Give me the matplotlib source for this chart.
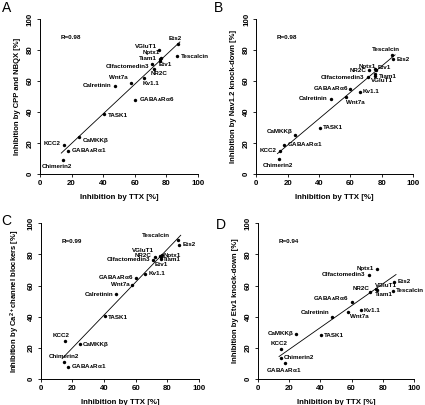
import numpy as np
import matplotlib.pyplot as plt

plt.rcParams['font.family'] = ['Liberation Sans', 'DejaVu Sans']
plt.rcParams['font.weight'] = 'bold'
plt.rcParams['mathtext.fontset'] = 'custom'
plt.rcParams['mathtext.rm'] = 'Liberation Sans:bold'
plt.rcParams['mathtext.it'] = 'Liberation Sans:bold'
plt.rcParams['mathtext.bf'] = 'Liberation Sans:bold'

GA1 = 'GABA$_{A}$Rα1'
GA6 = 'GABA$_{A}$Rα6'

# Inhibition by TTX [%] (shared x values)
genes = ['Ets2', 'Tescalcin', 'VGluT1', 'Nptx1', 'Tiam1', 'Etv1', 'Olfactomedin3',
         'NR2C', 'Kv1.1', GA6, 'Wnt7a', 'Calretinin', 'TASK1', 'CaMKKβ',
         GA1, 'KCC2', 'Chimerin2']
ttx = [87.5, 86.5, 75.5, 76.5, 76.0, 76.0, 71.0,
       72.0, 66.0, 60.0, 57.5, 47.5, 40.5, 24.5,
       17.5, 15.0, 14.5]

# y values per panel (None = not measured)
cpp_nbqx = [84, 76, 80, 75, 73, 74, 71, 68, 62, 48, 59, 57, 39, 24, 15, 18.5, 9]
nav12_kd = [74, 77, 63.5, 67, 64.5, 68, 62.5, 67, 53, 55, 49.5, 48.5, 30, 25, 19, 15, 10]
ca_block = [86, 89.5, 79, 79.5, 78, 77, 76.5, 78.5, 67.5, 65, 60.5, 54.5, 40.5, 22.5, 8, 24.5, 11]
etv1_kd = [62.5, 56.5, 57.5, 70.5, 57, None, 67, 56, 44, 49.5, 43, 39.5, 28, 29, 10, 19, 13.5]

r_texts = ['R=0.98', 'R=0.98', 'R=0.99', 'R=0.94']
ylabels = ['Inhibition by CPP and NBQX [%]',
           'Inhibition by Nav1.2 knock-down [%]',
           'Inhibition by Ca$^{2+}$channel blockers [%]',
           'Inhibition by Etv1 knock-down [%]']
letters = ['A', 'B', 'C', 'D']

# label placement: gene -> (dx px, dy px, ha, va)
L, R, C = 'left', 'right', 'center'
lay_a = {'Ets2': (-3, 3, C, 'bottom'), 'Tescalcin': (4, 0, L, 'center'),
         'VGluT1': (-2, 4, R, 'center'), 'Nptx1': (-1, 5, R, 'center'),
         'Tiam1': (-3, 2, R, 'center'), 'Etv1': (-1, -5, L, 'center'),
         'Olfactomedin3': (-3, -2, R, 'center'), 'NR2C': (-3, -5, L, 'center'),
         'Kv1.1': (-2, -6, L, 'center'), GA6: (4, 0, L, 'center'),
         'Wnt7a': (-3, 5, R, 'center'), 'Calretinin': (-4, 0, R, 'center'),
         'TASK1': (4, -2, L, 'center'), 'CaMKKβ': (4, -4, L, 'center'),
         GA1: (3, 0, L, 'center'), 'KCC2': (-3, 2, R, 'center'),
         'Chimerin2': (-6, -4, C, 'top')}
lay_b = {'Ets2': (3, 0, L, 'center'), 'Tescalcin': (-6, 3, C, 'bottom'),
         'VGluT1': (-4, -5, L, 'center'), 'Nptx1': (0, 4, R, 'center'),
         'Tiam1': (3, -2, L, 'center'), 'Etv1': (2, 1, L, 'center'),
         'Olfactomedin3': (-3, 0, R, 'center'), 'NR2C': (-3, 0, R, 'center'),
         'Kv1.1': (3, 0, L, 'center'), GA6: (-2, 0, R, 'center'),
         'Wnt7a': (0, -5, L, 'center'), 'Calretinin': (-3, 0, R, 'center'),
         'TASK1': (3, 0, L, 'center'), 'CaMKKβ': (-2, 4, R, 'center'),
         GA1: (3, 0, L, 'center'), 'KCC2': (-3, 0, R, 'center'),
         'Chimerin2': (-1, -4, C, 'top')}
lay_c = {'Ets2': (3, 0, L, 'center'), 'Tescalcin': (-8, 4, R, 'center'),
         'VGluT1': (-6, 5, R, 'center'), 'Nptx1': (2, 0, L, 'center'),
         'Tiam1': (2, -2, L, 'center'), 'Etv1': (0, -5, C, 'center'),
         'Olfactomedin3': (-3, 0, R, 'center'), 'NR2C': (-3, 1, R, 'center'),
         'Kv1.1': (3, 0, L, 'center'), GA6: (-2, 0, R, 'center'),
         'Wnt7a': (-2, 0, R, 'center'), 'Calretinin': (-3, 0, R, 'center'),
         'TASK1': (3, -2, L, 'center'), 'CaMKKβ': (3, -1, L, 'center'),
         GA1: (3, 0, L, 'center'), 'KCC2': (-3, 3, C, 'bottom'),
         'Chimerin2': (0, 3, C, 'bottom')}
lay_d = {'Ets2': (3, 0, L, 'center'), 'Tescalcin': (3, 0, L, 'center'),
         'VGluT1': (-1, 4, L, 'center'), 'Nptx1': (-3, 1, R, 'center'),
         'Tiam1': (-2, -4, L, 'center'),
         'Olfactomedin3': (-3, 0, R, 'center'), 'NR2C': (-1, 3, R, 'center'),
         'Kv1.1': (3, 0, L, 'center'), GA6: (-3, 3, R, 'center'),
         'Wnt7a': (2, -4, L, 'center'), 'Calretinin': (-3, 5, R, 'center'),
         'TASK1': (3, 0, L, 'center'), 'CaMKKβ': (-3, 0, R, 'center'),
         GA1: (-2, -3, C, 'top'), 'KCC2': (-2, 3, C, 'bottom'),
         'Chimerin2': (3, 1, L, 'center')}

panels = [
    ([0.094, 0.570, 0.372, 0.383], cpp_nbqx, lay_a, (0.005, 0.997)),
    ([0.603, 0.570, 0.369, 0.383], nav12_kd, lay_b, (0.503, 0.997)),
    ([0.096, 0.064, 0.372, 0.385], ca_block, lay_c, (0.004, 0.472)),
    ([0.607, 0.064, 0.367, 0.385], etv1_kd, lay_d, (0.508, 0.462)),
]

fig = plt.figure(figsize=(4.25, 4.05), dpi=100)

for i, (pos, yvals, lay, lpos) in enumerate(panels):
    ax = fig.add_axes(pos)
    xs = np.array([x for x, y in zip(ttx, yvals) if y is not None])
    ys = np.array([y for y in yvals if y is not None])
    names = [g for g, y in zip(genes, yvals) if y is not None]

    # regression line
    k, b = np.polyfit(xs, ys, 1)
    xl = np.array([xs.min() - 1, xs.max() + 1])
    ax.plot(xl, k * xl + b, color='black', lw=0.6)

    ax.scatter(xs, ys, s=6, color='black', zorder=3, linewidths=0)

    for g, x, y in zip(names, xs, ys):
        dx, dy, ha, va = lay[g]
        ax.annotate(g, (x, y), xytext=(dx, dy), textcoords='offset pixels',
                    ha=ha, va=va, fontsize=4.5, fontweight='bold')

    ax.text(0.13, 0.88, r_texts[i], transform=ax.transAxes, fontsize=4.5,
            fontweight='bold', va='center')

    ax.set_xlim(0, 100)
    ax.set_ylim(0, 100)
    ax.set_xticks(range(0, 101, 20))
    ax.set_yticks(range(0, 101, 20))
    for lab in ax.get_yticklabels():
        lab.set_rotation(90)
        lab.set_va('center')
    ax.tick_params(labelsize=5.7, length=2.5, width=0.6, pad=2, direction='out')
    for lab in ax.get_xticklabels() + ax.get_yticklabels():
        lab.set_fontweight('bold')
    ax.spines['top'].set_visible(False)
    ax.spines['right'].set_visible(False)
    for s in ['left', 'bottom']:
        ax.spines[s].set_linewidth(0.7)

    ax.set_xlabel('Inhibition by TTX [%]', fontsize=5.7, fontweight='bold', labelpad=5)
    ax.set_ylabel(ylabels[i], fontsize=5.5, fontweight='bold', labelpad=4)

    fig.text(lpos[0], lpos[1], letters[i], fontsize=10, fontweight='normal',
             ha='left', va='top')

plt.savefig('out.png', dpi=100)
